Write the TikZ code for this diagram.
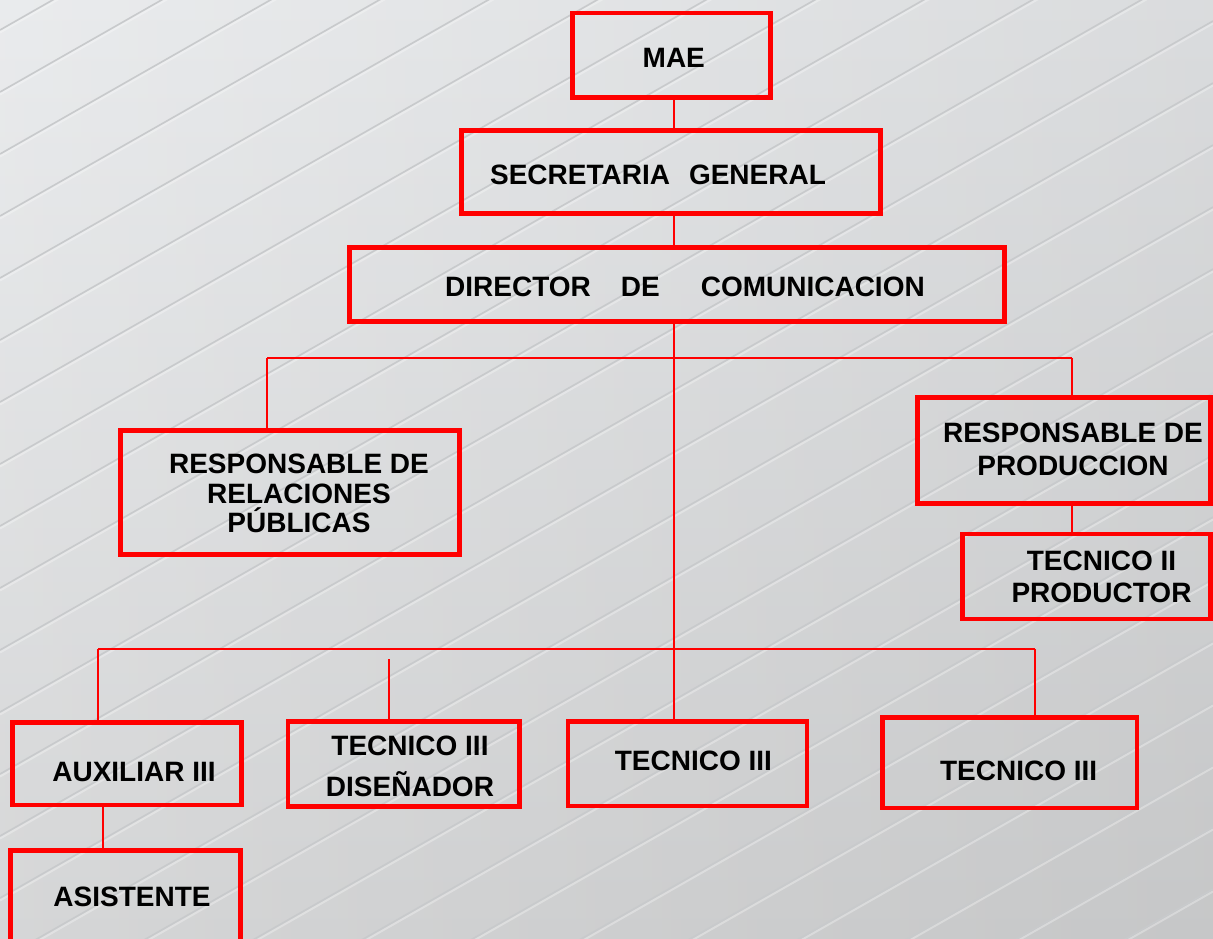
\documentclass[tikz,border=0pt]{standalone}
\usepackage{fontspec}
\setmainfont{Liberation Sans}
\definecolor{bgtop}{RGB}{231,233,235}
\definecolor{bgbot}{RGB}{208,209,210}
\definecolor{stripe}{RGB}{200,202,204}
\definecolor{boxred}{RGB}{255,0,0}
\begin{document}
\begin{tikzpicture}[x=1pt,y=-1pt,
  box/.style={draw=boxred, line width=4.5pt, inner sep=0pt, rectangle},
  conn/.style={draw=boxred, line width=2pt},
  lbl/.style={inner sep=0pt, text=black, font=\bfseries\fontsize{28}{#1}\selectfont},
  lbl/.default=33,
  stripeline/.style={draw=stripe, line width=1.6pt},
  stripelight/.style={draw=white, line width=2pt, opacity=0.3},
]
\useasboundingbox (0,0) rectangle (1213,938);
% background
\shade[top color=bgtop, bottom color=bgbot] (0,0) rectangle (1213,938);
\shade[left color=white, right color=gray, opacity=0.12] (0,0) rectangle (1213,938);
\begin{scope}
\clip (0,0) rectangle (1213,938);
\foreach \k in {-2,...,28} {
  \draw[stripelight] (0,\k*62+32.5) -- (1213,\k*62-658.5);
  \draw[stripeline] (0,\k*62+30) -- (1213,\k*62-661);
}
\end{scope}

% boxes
\node[box, minimum width=198pt, minimum height=84.5pt] (mae) at (671.5,55.25) {};
\node[box, minimum width=419pt, minimum height=83pt] (sec) at (671,172) {};
\node[box, minimum width=655pt, minimum height=74pt] (dir) at (677,284.5) {};
\node[box, minimum width=339pt, minimum height=124pt] (rrpp) at (290,492.5) {};
\node[box, minimum width=293pt, minimum height=106pt] (prod) at (1064,450.5) {};
\node[box, minimum width=248pt, minimum height=85pt] (tec2) at (1086.5,576.5) {};
\node[box, minimum width=229pt, minimum height=82.5pt] (aux) at (127,763.75) {};
\node[box, minimum width=230pt, minimum height=109.5pt] (asis) at (125.5,905) {};
\node[box, minimum width=231.5pt, minimum height=85pt] (dis) at (403.75,764) {};
\node[box, minimum width=239pt, minimum height=84.5pt] (tecA) at (687.5,763.75) {};
\node[box, minimum width=254.5pt, minimum height=90.5pt] (tecB) at (1009.75,762.75) {};

% junction coordinates
\coordinate (mx) at (674,0);
\coordinate (bu) at (674,358);
\coordinate (buL) at (267,358);
\coordinate (buR) at (1072,358);
\coordinate (blL) at (98,649);
\coordinate (blR) at (1035,649);
\coordinate (dzTop) at (388.6,659);
\coordinate (ax) at (103,0);

% connectors
\draw[conn] (mae.south -| mx) -- (sec.north -| mx);
\draw[conn] (sec.south -| mx) -- (dir.north -| mx);
\draw[conn] (dir.south -| bu) -- (tecA.north -| bu);
\draw[conn] (buL) -- (buR);
\draw[conn] (buL) -- (rrpp.north -| buL);
\draw[conn] (buR) -- (prod.north -| buR);
\draw[conn] (prod.south -| buR) -- (tec2.north -| buR);
\draw[conn] (blL) -- (blR);
\draw[conn] (blL) -- (aux.north -| blL);
\draw[conn] (dzTop) -- (dis.north -| dzTop);
\draw[conn] (blR) -- (tecB.north -| blR);
\draw[conn] (aux.south -| ax) -- (asis.north -| ax);

% texts
\node[lbl, anchor=base] (tmae) at (673.8,67.7) {MAE};
\node[lbl, anchor=base] (tsec) at (658,184) {SECRETARIA\hspace{19pt}GENERAL};
\node[lbl, anchor=base] (tdir) at (685,296.7) {DIRECTOR\hspace{30pt}DE\hspace{41pt}COMUNICACION};
\node[lbl=29.5, anchor=north, align=center] (trrpp) at (299,454) {RESPONSABLE DE\\RELACIONES\\PÚBLICAS};
\node[lbl=33.3, anchor=north, align=center] (tprod) at (1073,422.4) {RESPONSABLE DE\\PRODUCCION};
\node[lbl=31.7, anchor=north, align=center] (ttec2) at (1101.5,550.7) {TECNICO II\\PRODUCTOR};
\node[lbl, anchor=base] (taux) at (134,781.7) {AUXILIAR III};
\node[lbl, anchor=base] (tasis) at (132,906.7) {ASISTENTE};
\node[lbl=41, anchor=north, align=center] (tdis) at (410,735.7) {TECNICO III\\DISEÑADOR};
\node[lbl, anchor=base] (ttecA) at (693.4,770) {TECNICO III};
\node[lbl, anchor=base] (ttecB) at (1018.6,780) {TECNICO III};
\end{tikzpicture}
\end{document}
